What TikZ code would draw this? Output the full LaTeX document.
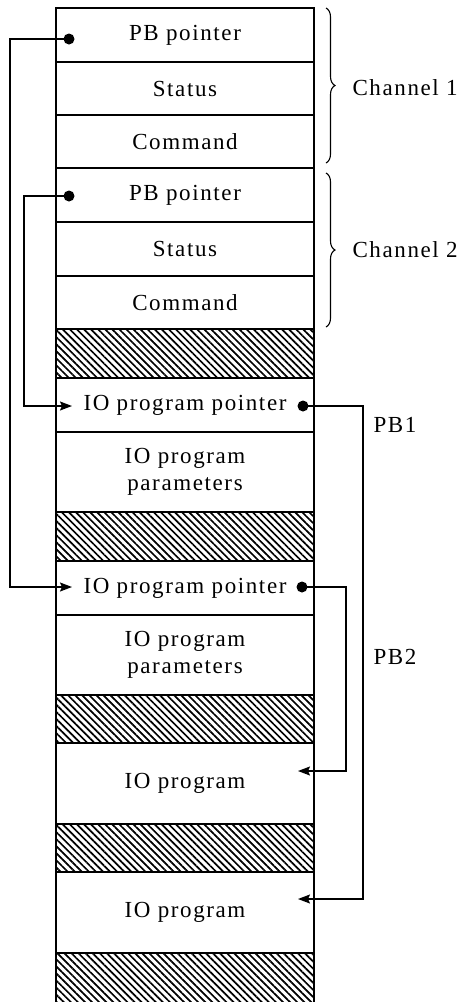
\documentclass[tikz,border=0pt]{standalone}
\usepackage{fontspec}
\setmainfont{Liberation Serif}[LetterSpace=7]
\usetikzlibrary{patterns.meta,decorations.pathreplacing,arrows.meta}
\begin{document}
\begin{tikzpicture}[x=1pt,y=-1pt,
  every node/.style={font=\fontsize{23}{27}\selectfont},
  cell/.style={draw, line width=1.5pt, anchor=north west, minimum width=258pt, inner sep=0pt, outer sep=0pt, align=center},
  hatch/.style={cell, pattern={Lines[angle=-45, distance=5pt, line width=1.7pt]}},
  link/.style={line width=1.4pt},
  dot/.style={circle, fill, inner sep=0pt, minimum size=11pt},
  ptr/.style={link, -{Stealth[length=12pt,width=9pt,inset=2pt]}},
  brc/.style={line width=1.1pt, decorate, decoration={brace, amplitude=9pt}},
  lbl/.style={anchor=west}]
\useasboundingbox (0,0) rectangle (460,1002);
% memory cells
\node[cell, minimum height=54pt] (c1pb) at (56,8) {PB pointer};
\node[cell, minimum height=53pt] (c1st) at (56,62) {Status};
\node[cell, minimum height=53pt] (c1cm) at (56,115) {Command};
\node[cell, minimum height=54pt] (c2pb) at (56,168) {PB pointer};
\node[cell, minimum height=54pt] (c2st) at (56,222) {Status};
\node[cell, minimum height=53pt] (c2cm) at (56,276) {Command};
\node[hatch, minimum height=49pt] (h1) at (56,329) {};
\node[cell, minimum height=54pt] (iop1) at (56,378) {IO program pointer};
\node[cell, minimum height=80pt] (par1) at (56,432) {IO program\\parameters};
\node[hatch, minimum height=49pt] (h2) at (56,512) {};
\node[cell, minimum height=54pt] (iop2) at (56,561) {IO program pointer};
\node[cell, minimum height=80pt] (par2) at (56,615) {IO program\\parameters};
\node[hatch, minimum height=48pt] (h3) at (56,695) {};
\node[cell, minimum height=81pt] (prog1) at (56,743) {IO program};
\node[hatch, minimum height=48pt] (h4) at (56,824) {};
\node[cell, minimum height=81pt] (prog2) at (56,872) {IO program};
\node[hatch, minimum height=56pt] (h5) at (56,953) {};
% braces and labels
\draw[brc] (326,8) -- (326,163);
\draw[brc] (326,173) -- (326,327);
\node[lbl] (ch1) at (349,88) {Channel 1};
\node[lbl] (ch2) at (349,250) {Channel 2};
\node[lbl] (pb1) at (370,425) {PB1};
\node[lbl] (pb2) at (370,657) {PB2};
% pointer dots
\node[dot] (d1) at (69,39) {};
\node[dot] (d2) at (69,196) {};
\node[dot] (d3) at (303,406) {};
\node[dot] (d4) at (302,587) {};
% bends and arrow targets
\coordinate (k1) at (10,39);
\coordinate (k2) at (24,196);
\coordinate (k3) at (363,406);
\coordinate (k4) at (346,587);
\coordinate (a1) at (72,406);
\coordinate (a2) at (72,587);
\coordinate (b1) at (298,771);
\coordinate (b2) at (298,899);
% connectors
\draw[ptr] (d1.center) -- (k1) |- (a2);
\draw[ptr] (d2.center) -- (k2) |- (a1);
\draw[ptr] (d3.center) -- (k3) |- (b2);
\draw[ptr] (d4.center) -- (k4) |- (b1);
\end{tikzpicture}
\end{document}
